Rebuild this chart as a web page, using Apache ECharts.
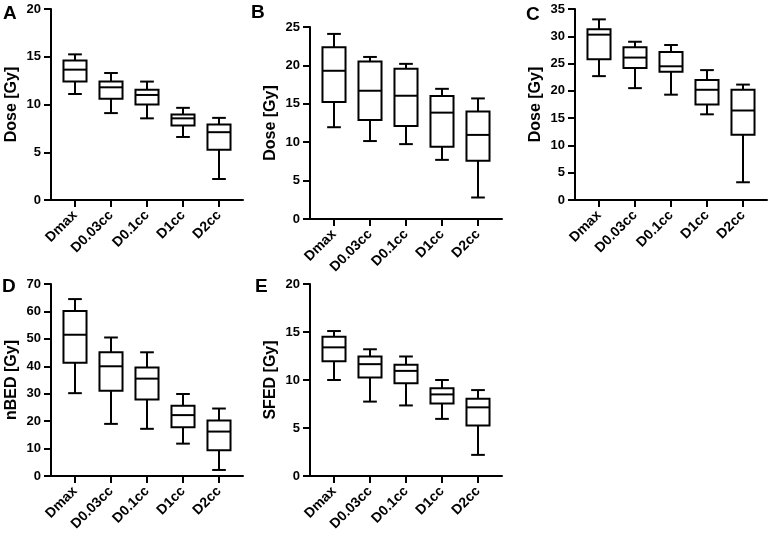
<!DOCTYPE html>
<html>
<head>
    <meta charset="UTF-8">
    <title>Dose box plots</title>
    <script src="https://cdn.jsdelivr.net/npm/echarts@6/dist/echarts.min.js"></script>
    <style>
        html, body { margin: 0; padding: 0; background: #fff; }
        #chart { width: 770px; height: 537px; }
    </style>
</head>
<body>
<div id="chart"></div>
<script>
    // categories on every x axis
    var categories = ['Dmax', 'D0.03cc', 'D0.1cc', 'D1cc', 'D2cc'];

    // each row: [min, Q1, median, Q3, max]
    var boxesA = [
        [11.1, 12.4, 13.65, 14.6, 15.25],
        [9.1, 10.6, 11.8, 12.4, 13.3],
        [8.55, 10.0, 11.0, 11.55, 12.4],
        [6.6, 7.8, 8.55, 8.95, 9.65],
        [2.2, 5.25, 7.1, 7.9, 8.6]
    ];
    var boxesB = [
        [11.95, 15.25, 19.3, 22.35, 24.1],
        [10.15, 12.9, 16.7, 20.5, 21.1],
        [9.75, 12.1, 16.05, 19.55, 20.2],
        [7.7, 9.4, 13.85, 16.0, 16.95],
        [2.8, 7.6, 10.95, 14.0, 15.7]
    ];
    var boxesC = [
        [22.7, 25.8, 30.3, 31.3, 33.1],
        [20.5, 24.2, 26.1, 28.0, 29.0],
        [19.3, 23.5, 24.5, 27.1, 28.4],
        [15.7, 17.5, 20.2, 22.0, 23.8],
        [3.25, 11.95, 16.4, 20.2, 21.15]
    ];
    var boxesD = [
        [30.2, 41.3, 51.5, 60.2, 64.5],
        [19.0, 31.1, 40.0, 45.1, 50.5],
        [17.2, 27.9, 35.5, 39.6, 45.1],
        [11.8, 17.8, 22.2, 25.6, 29.9],
        [2.2, 9.4, 16.2, 20.2, 24.6]
    ];
    var boxesE = [
        [10.0, 11.95, 13.4, 14.5, 15.1],
        [7.75, 10.25, 11.65, 12.45, 13.2],
        [7.35, 9.65, 10.95, 11.6, 12.45],
        [5.95, 7.55, 8.5, 9.15, 10.0],
        [2.2, 5.25, 7.15, 8.05, 8.95]
    ];

    var yNames = ['Dose [Gy]', 'Dose [Gy]', 'Dose [Gy]', 'nBED [Gy]', 'SFED [Gy]'];
    var yMax = [20, 25, 35, 70, 20];
    var yStep = [5, 5, 5, 10, 5];
    var letters = ['A', 'B', 'C', 'D', 'E'];

    var FONT = '"Liberation Sans", Arial, sans-serif';

    // panel placement: x of the y axis line, top and height of the plot
    var panels = [
        {axisX: 51, top: 9, height: 191, lx: 3, ly: 4},
        {axisX: 310, top: 27, height: 192, lx: 251, ly: 3},
        {axisX: 575, top: 9, height: 191, lx: 526, ly: 5},
        {axisX: 51, top: 284, height: 192, lx: 2, ly: 277},
        {axisX: 310, top: 284, height: 192, lx: 255, ly: 277}
    ];
    var allBoxes = [boxesA, boxesB, boxesC, boxesD, boxesE];

    function renderBox(params, api) {
        var x = api.value(0);
        var lo = api.coord([x, api.value(1)]);
        var q1 = api.coord([x, api.value(2)]);
        var med = api.coord([x, api.value(3)]);
        var q3 = api.coord([x, api.value(4)]);
        var hi = api.coord([x, api.value(5)]);
        var band = api.size([1, 0])[0];
        var bw = band * 0.64;
        var cw = band * 0.38;
        var cx = Math.round(lo[0]);
        var st = {stroke: '#000', lineWidth: 2, fill: null};
        function ln(x1, y1, x2, y2) {
            return {type: 'line', shape: {x1: x1, y1: y1, x2: x2, y2: y2}, style: st};
        }
        return {
            type: 'group',
            children: [
                ln(cx, hi[1], cx, q3[1]),
                ln(cx, q1[1], cx, lo[1]),
                ln(cx - cw / 2, hi[1], cx + cw / 2, hi[1]),
                ln(cx - cw / 2, lo[1], cx + cw / 2, lo[1]),
                {
                    type: 'rect',
                    shape: {x: cx - bw / 2, y: q3[1], width: bw, height: q1[1] - q3[1]},
                    style: {stroke: '#000', lineWidth: 2, fill: '#fff'}
                },
                ln(cx - bw / 2, med[1], cx + bw / 2, med[1])
            ]
        };
    }

    var option = {
        backgroundColor: '#fff',
        animation: false,
        title: [],
        grid: [],
        xAxis: [],
        yAxis: [],
        series: []
    };

    panels.forEach(function (p, i) {
        // data grid (category band sits 6px in from the axis line)
        option.grid.push({left: p.axisX + 6, top: p.top, width: 180, height: p.height});
        // grid only used to draw the full-length x axis line
        option.grid.push({left: p.axisX, top: p.top, width: 192, height: p.height});

        option.title.push({
            text: letters[i], left: p.lx, top: p.ly, padding: 0,
            textStyle: {fontFamily: FONT, fontSize: 19, fontWeight: 'bold', color: '#000'}
        });

        option.xAxis.push({
            gridIndex: 2 * i,
            type: 'category',
            data: categories,
            axisLine: {show: false},
            axisTick: {show: true, alignWithLabel: true, length: 7, lineStyle: {color: '#000', width: 2}},
            axisLabel: {
                interval: 0, rotate: 45, margin: 13, color: '#000',
                fontFamily: FONT, fontSize: 14, fontWeight: 'bold'
            },
            splitLine: {show: false}
        });
        option.xAxis.push({
            gridIndex: 2 * i + 1,
            type: 'value', min: 0, max: 1,
            axisLine: {show: true, lineStyle: {color: '#000', width: 2}},
            axisTick: {show: false},
            axisLabel: {show: false},
            splitLine: {show: false}
        });

        option.yAxis.push({
            gridIndex: 2 * i,
            type: 'value',
            min: 0, max: yMax[i], interval: yStep[i],
            offset: 6,
            name: yNames[i],
            nameLocation: 'middle',
            nameGap: 31,
            nameTextStyle: {fontFamily: FONT, fontSize: 16, fontWeight: 'bold', color: '#000'},
            axisLine: {show: true, lineStyle: {color: '#000', width: 2}},
            axisTick: {show: true, length: 7, lineStyle: {color: '#000', width: 2}},
            axisLabel: {margin: 10, color: '#000', fontFamily: FONT, fontSize: 13, fontWeight: 'bold'},
            splitLine: {show: false}
        });
        option.yAxis.push({
            gridIndex: 2 * i + 1,
            type: 'value', show: false
        });

        option.series.push({
            type: 'custom',
            xAxisIndex: 2 * i,
            yAxisIndex: 2 * i,
            renderItem: renderBox,
            encode: {x: 0, y: [1, 2, 3, 4, 5]},
            data: allBoxes[i].map(function (b, k) { return [k].concat(b); }),
            z: 5
        });
    });

    var chart = echarts.init(document.getElementById('chart'));
    chart.setOption(option);
</script>
</body>
</html>
